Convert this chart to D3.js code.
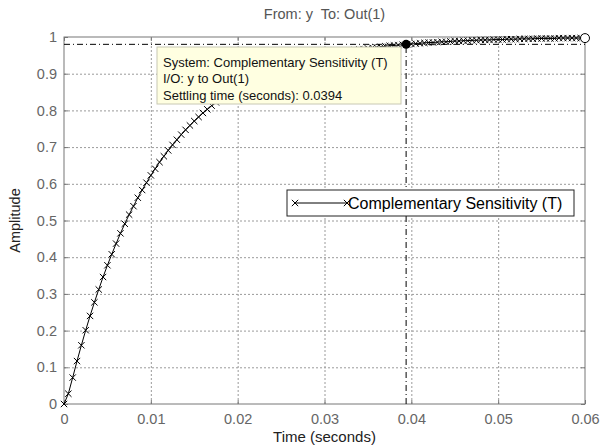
<!DOCTYPE html>
<html>
<head>
  <meta charset="utf-8">
  <style>
    body { margin: 0; background: #fff; }
    svg { display: block; font-family: "Liberation Sans", Arial, sans-serif; }
    .tick-lbl text { fill: #666; font-size: 14.5px; }
    .grid line { stroke: #9a9a9a; stroke-dasharray: 2,2; }
    .frame { fill: none; stroke: #777; stroke-width: 1; }
    .curve { fill: none; stroke: #000; stroke-width: 1; }
    .mark { stroke: #000; stroke-width: 1; }
    .settle { fill: none; stroke: #000; stroke-width: 1; stroke-dasharray: 6,3,1,3; }
  </style>
  <script src="https://d3js.org/d3.v7.min.js"></script>
</head>
<body>
<div id="chart"></div>
<script>
  // step response samples (seconds / amplitude)
  var times = [0, 0.0005, 0.001, 0.0015, 0.002, 0.0025, 0.003, 0.0035, 0.004, 0.0045,
    0.005, 0.0055, 0.006, 0.0065, 0.007, 0.0075, 0.008, 0.0085, 0.009, 0.0095,
    0.01, 0.0105, 0.011, 0.0115, 0.012, 0.0125, 0.013, 0.0135, 0.014, 0.0145,
    0.015, 0.0155, 0.016, 0.0165, 0.017, 0.0175, 0.018, 0.0185, 0.019, 0.0195,
    0.02, 0.0205, 0.021, 0.0215, 0.022, 0.0225, 0.023, 0.0235, 0.024, 0.0245,
    0.025, 0.0255, 0.026, 0.0265, 0.027, 0.0275, 0.028, 0.0285, 0.029, 0.0295,
    0.03, 0.0305, 0.031, 0.0315, 0.032, 0.0325, 0.033, 0.0335, 0.034, 0.0345,
    0.035, 0.0355, 0.036, 0.0365, 0.037, 0.0375, 0.038, 0.0385, 0.039, 0.0395,
    0.04, 0.0405, 0.041, 0.0415, 0.042, 0.0425, 0.043, 0.0435, 0.044, 0.0445,
    0.045, 0.0455, 0.046, 0.0465, 0.047, 0.0475, 0.048, 0.0485, 0.049, 0.0495,
    0.05, 0.0505, 0.051, 0.0515, 0.052, 0.0525, 0.053, 0.0535, 0.054, 0.0545,
    0.055, 0.0555, 0.056, 0.0565, 0.057, 0.0575, 0.058, 0.0585, 0.059, 0.0595, 0.06];

  var amplitude = [0, 0.028, 0.072, 0.117, 0.160, 0.201, 0.240, 0.277, 0.312, 0.346,
    0.378, 0.408, 0.437, 0.465, 0.491, 0.516, 0.539, 0.562, 0.583, 0.603,
    0.623, 0.641, 0.659, 0.675, 0.691, 0.706, 0.720, 0.734, 0.747, 0.759,
    0.771, 0.782, 0.793, 0.803, 0.813, 0.822, 0.830, 0.839, 0.847, 0.854,
    0.861, 0.868, 0.874, 0.881, 0.886, 0.892, 0.897, 0.902, 0.907, 0.911,
    0.916, 0.920, 0.924, 0.928, 0.931, 0.934, 0.938, 0.941, 0.944, 0.946,
    0.949, 0.951, 0.954, 0.956, 0.958, 0.960, 0.962, 0.964, 0.966, 0.967,
    0.969, 0.971, 0.972, 0.973, 0.975, 0.976, 0.977, 0.978, 0.979, 0.980,
    0.981, 0.982, 0.983, 0.984, 0.985, 0.985, 0.986, 0.987, 0.987, 0.988,
    0.989, 0.989, 0.990, 0.990, 0.991, 0.991, 0.992, 0.992, 0.992, 0.993,
    0.993, 0.993, 0.994, 0.994, 0.994, 0.995, 0.995, 0.995, 0.995, 0.996,
    0.996, 0.996, 0.996, 0.996, 0.997, 0.997, 0.997, 0.997, 0.997, 0.997, 0.997];

  var xTicks = [0, 0.01, 0.02, 0.03, 0.04, 0.05, 0.06];
  var yTicks = [0, 0.1, 0.2, 0.3, 0.4, 0.5, 0.6, 0.7, 0.8, 0.9, 1];
  var xTickLabels = ["0", "0.01", "0.02", "0.03", "0.04", "0.05", "0.06"];
  var yTickLabels = ["0", "0.1", "0.2", "0.3", "0.4", "0.5", "0.6", "0.7", "0.8", "0.9", "1"];

  var settlingTime = 0.0394;
  var settlingLevel = 0.98;
  var seriesName = "Complementary Sensitivity (T)";
  var tipLines = ["System: Complementary Sensitivity (T)", "I/O: y to Out(1)", "Settling time (seconds): 0.0394"];

  var svgWidth = 602, svgHeight = 446;
  var margin = { top: 37, right: 17, bottom: 42, left: 64 };
  var w = svgWidth - margin.left - margin.right;
  var h = svgHeight - margin.top - margin.bottom;

  var svg = d3.select("#chart").append("svg")
    .attr("width", svgWidth)
    .attr("height", svgHeight);

  var chart = svg.append("g")
    .attr("transform", "translate(" + margin.left + "," + margin.top + ")");

  var x = d3.scaleLinear().domain([0, 0.06]).range([0, w]);
  var y = d3.scaleLinear().domain([0, 1]).range([h, 0]);

  // grid
  chart.append("g").attr("class", "grid")
    .attr("transform", "translate(0," + h + ")")
    .call(d3.axisBottom(x).tickValues(xTicks.slice(1, -1)).tickSize(-h).tickFormat(""))
    .call(function (g) { g.select(".domain").remove(); });
  chart.append("g").attr("class", "grid")
    .call(d3.axisLeft(y).tickValues(yTicks.slice(1, -1)).tickSize(-w).tickFormat(""))
    .call(function (g) { g.select(".domain").remove(); });

  // tick labels + inner ticks
  var xa = chart.append("g").attr("class", "tick-lbl")
    .attr("transform", "translate(0," + h + ")")
    .call(d3.axisBottom(x).tickValues(xTicks).tickSizeInner(-4).tickSizeOuter(0).tickPadding(8)
      .tickFormat(function (d, i) { return xTickLabels[i]; }));
  var ya = chart.append("g").attr("class", "tick-lbl")
    .call(d3.axisLeft(y).tickValues(yTicks).tickSizeInner(-4).tickSizeOuter(0).tickPadding(7)
      .tickFormat(function (d, i) { return yTickLabels[i]; }));
  chart.append("g").call(d3.axisTop(x).tickValues(xTicks).tickSizeInner(-4).tickSizeOuter(0).tickFormat(""))
    .selectAll("text").remove();
  chart.append("g").attr("transform", "translate(" + w + ",0)")
    .call(d3.axisRight(y).tickValues(yTicks).tickSizeInner(-4).tickSizeOuter(0).tickFormat(""));
  chart.selectAll(".domain").remove();
  chart.selectAll(".tick line").filter(function () { return !this.closest(".grid"); })
    .attr("stroke", "#777");
  xa.selectAll("text").attr("dy", "0.8em");

  chart.append("rect").attr("class", "frame")
    .attr("x", 0).attr("y", 0).attr("width", w).attr("height", h);

  // settling time guides
  chart.append("line").attr("class", "settle")
    .attr("x1", x(0)).attr("x2", x(0.06))
    .attr("y1", y(settlingLevel)).attr("y2", y(settlingLevel));
  chart.append("line").attr("class", "settle")
    .attr("x1", x(settlingTime)).attr("x2", x(settlingTime))
    .attr("y1", y(0)).attr("y2", y(settlingLevel));

  // response curve
  var pts = times.map(function (t, i) { return [t, amplitude[i]]; });
  chart.append("path").attr("class", "curve")
    .attr("d", d3.line().x(function (d) { return x(d[0]); }).y(function (d) { return y(d[1]); })(pts));

  var cross = d3.symbol().type(d3.symbolX).size(28);
  chart.selectAll(".mark").data(pts).enter().append("path")
    .attr("class", "mark")
    .attr("transform", function (d) { return "translate(" + x(d[0]) + "," + y(d[1]) + ")"; })
    .attr("d", cross);

  // settling point and end point
  chart.append("circle").attr("cx", x(settlingTime)).attr("cy", y(settlingLevel))
    .attr("r", 4.5).attr("fill", "#000");
  chart.append("circle").attr("cx", x(times[times.length - 1])).attr("cy", y(amplitude[amplitude.length - 1]))
    .attr("r", 4.5).attr("fill", "#fff").attr("stroke", "#000");

  // data tip
  var tip = svg.append("g").attr("transform", "translate(157,47)");
  tip.append("rect").attr("width", 244).attr("height", 57)
    .attr("fill", "#ffffe1").attr("stroke", "#c8c8b4");
  tip.selectAll("text").data(tipLines).enter().append("text")
    .attr("x", 6).attr("y", function (d, i) { return 19.5 + i * 16.5; })
    .attr("font-size", "13px").attr("fill", "#111")
    .text(function (d) { return d; });

  // legend
  var leg = svg.append("g").attr("transform", "translate(287,190)");
  leg.append("rect").attr("width", 287).attr("height", 26)
    .attr("fill", "#fff").attr("stroke", "#222");
  leg.append("line").attr("x1", 8).attr("x2", 60).attr("y1", 13).attr("y2", 13)
    .attr("stroke", "#000");
  leg.selectAll(".lm").data([8, 60]).enter().append("path")
    .attr("class", "mark")
    .attr("transform", function (d) { return "translate(" + d + ",13)"; })
    .attr("d", cross);
  leg.append("text").attr("x", 61).attr("y", 19)
    .attr("font-size", "16px").attr("fill", "#000").text(seriesName);

  // titles
  svg.append("text").attr("x", margin.left + w / 2).attr("y", 19)
    .attr("text-anchor", "middle").attr("font-size", "14.5px").attr("fill", "#555")
    .style("white-space", "pre")
    .text("From: y  To: Out(1)");
  svg.append("text").attr("x", margin.left + w / 2).attr("y", 442)
    .attr("text-anchor", "middle").attr("font-size", "15px").attr("fill", "#222")
    .text("Time (seconds)");
  svg.append("text").attr("transform", "translate(20," + (margin.top + h / 2) + ") rotate(-90)")
    .attr("text-anchor", "middle").attr("font-size", "14.5px").attr("fill", "#222")
    .text("Amplitude");
</script>
</body>
</html>
